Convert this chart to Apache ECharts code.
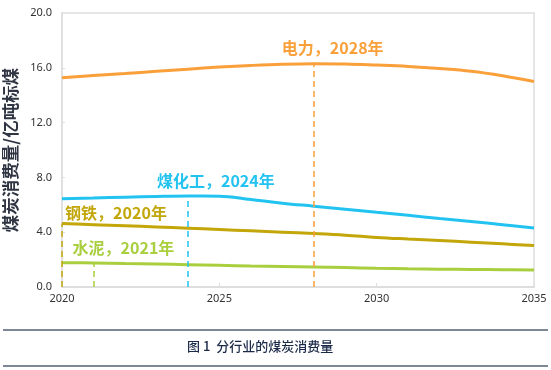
<!DOCTYPE html>
<html><head><meta charset="utf-8">
<script src="https://cdn.jsdelivr.net/npm/echarts@6/dist/echarts.min.js"></script>
<style>html,body{margin:0;padding:0;background:#fff}#c{width:551px;height:370px}</style>
</head><body><div id="c"></div>
<script>
var years = [2020,2021,2022,2023,2024,2025,2026,2027,2028,2029,2030,2031,2032,2033,2034,2035];
var power    = [15.27,15.43,15.58,15.74,15.9,16.05,16.17,16.26,16.3,16.28,16.2,16.1,15.95,15.75,15.42,15.0];
var coalChem = [6.45,6.5,6.56,6.61,6.64,6.63,6.38,6.12,5.9,5.68,5.45,5.23,5.0,4.78,4.55,4.3];
var steel    = [4.63,4.55,4.47,4.38,4.29,4.2,4.1,4.0,3.9,3.78,3.62,3.5,3.39,3.27,3.15,3.03];
var cement   = [1.77,1.76,1.72,1.68,1.63,1.58,1.53,1.5,1.46,1.42,1.37,1.33,1.3,1.28,1.26,1.24];
var seriesNames = ['电力','煤化工','钢铁','水泥'];
var peakYears = [2028,2024,2020,2021];
var peakLabels = ['电力，2028年','煤化工，2024年','钢铁，2020年','水泥，2021年'];
var yTicks = [0,4,8,12,16,20];
var colors = ['#F9A03A','#22C3F0','#C2A60A','#A9CF3F'];
var offsets = [[19,-16],[28,-15],[54,-11],[30,-15]];
var allData = [power, coalChem, steel, cement];

var series = allData.map(function(arr, i){
  var py = peakYears[i];
  var pv = arr[years.indexOf(py)];
  return {
    name: seriesNames[i], type: 'line', smooth: 0.4, showSymbol: false,
    data: years.map(function(y,k){return [y, arr[k]];}),
    lineStyle: {color: colors[i], width: 3},
    itemStyle: {color: colors[i]},
    z: 3,
    markLine: {
      silent: true, symbol: 'none',
      lineStyle: {color: colors[i], type: [6,4], width: 1.5},
      label: {show: false},
      data: [[{coord:[py,0]},{coord:[py,pv]}]]
    },
    markPoint: {
      silent: true, symbol: 'circle', symbolSize: 1,
      itemStyle: {color: 'rgba(0,0,0,0)'},
      label: {show: true, formatter: peakLabels[i], color: colors[i], fontSize: 16, fontWeight: 'bold',
        fontFamily: '"Noto Sans CJK SC", sans-serif', offset: offsets[i]},
      data: [{coord:[py,pv]}]
    }
  };
});

var chart = echarts.init(document.getElementById('c'));
chart.setOption({
  animation: false,
  grid: {left: 62, right: 17, top: 13, bottom: 83, show: true, borderColor: '#dedede', borderWidth: 1.5,
    containLabel: false, outerBoundsMode: 'none'},
  xAxis: {
    type: 'value', min: 2020, max: 2035, interval: 5,
    axisLine: {show: true, lineStyle: {color: '#dedede', width: 2}},
    axisTick: {show: true, inside: true, length: 4, lineStyle: {color: '#dedede'}},
    splitLine: {show: false},
    axisLabel: {color: '#333', fontSize: 11, margin: 6, fontFamily: '"Noto Sans", sans-serif',
      formatter: function(v){return String(v);}}
  },
  yAxis: {
    type: 'value', min: 0, max: 20, interval: 4,
    name: '煤炭消费量/亿吨标煤', nameLocation: 'middle', nameGap: 36,
    nameTextStyle: {color: '#2f3542', fontSize: 17.5, fontWeight: 'bold', fontFamily: '"Noto Sans CJK SC", sans-serif'},
    axisLine: {show: true, lineStyle: {color: '#dedede', width: 1.5}},
    axisTick: {show: true, inside: true, length: 3, lineStyle: {color: '#dedede'}},
    splitLine: {show: false},
    axisLabel: {color: '#333', fontSize: 11, margin: 10, fontFamily: '"Noto Sans", sans-serif',
      formatter: function(v){return yTicks.indexOf(v) >= 0 ? v.toFixed(1) : '';}}
  },
  graphic: [
    {type: 'rect', shape: {x: 3, y: 329, width: 545, height: 2}, style: {fill: '#7d8796'}},
    {type: 'rect', shape: {x: 3, y: 365, width: 545, height: 2}, style: {fill: '#7d8796'}},
    {type: 'text', left: 187, top: 340, style: {text: '图 1  分行业的煤炭消费量', fill: '#1b2a48', fontSize: 13,
      fontWeight: 500, fontFamily: '"Noto Sans CJK SC", sans-serif'}}
  ],
  series: series
});
</script></body></html>
